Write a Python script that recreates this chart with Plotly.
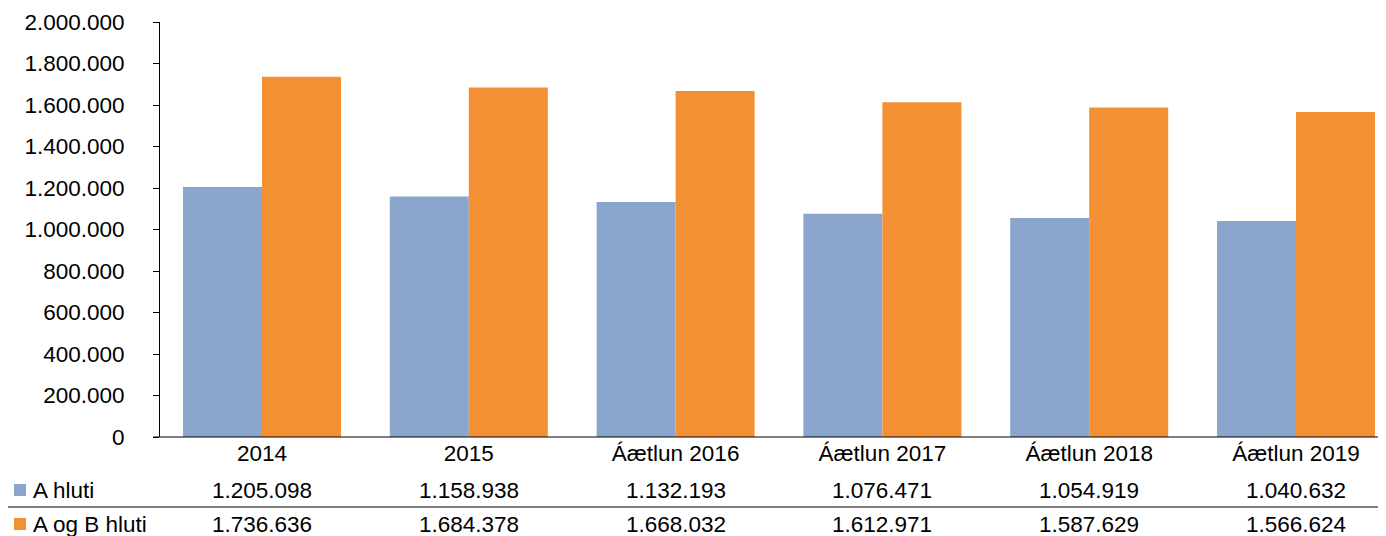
import plotly.graph_objects as go

categories = ["2014", "2015", "Áætlun 2016", "Áætlun 2017", "Áætlun 2018", "Áætlun 2019"]
series_names = ["A hluti", "A og B hluti"]
a_hluti = [1205098, 1158938, 1132193, 1076471, 1054919, 1040632]
a_og_b_hluti = [1736636, 1684378, 1668032, 1612971, 1587629, 1566624]
y_ticks = [0, 200000, 400000, 600000, 800000, 1000000, 1200000, 1400000, 1600000, 1800000, 2000000]

colors = ["#8AA6CC", "#F39033"]
OFF = 8  # page body margin
W, H = 1386 - OFF, 536 - OFF
L, R, T, B = 160 - OFF, 0, 22 - OFF, 99
PW, PH = W - L - R, H - T - B
FONT = "Liberation Sans, Arial, sans-serif"
FS = 22.5

# category spacing in the reference: centres at 262 px .. 1296 px
CAT_STEP = 206.8
X0 = -(262 - 160) / CAT_STEP
X1 = (1386 - 262) / CAT_STEP


def px_x(x):
    return (x - OFF - L) / PW


def px_y(y):
    return (H - B - (y - OFF)) / PH


def fmt(v):
    return f"{v:,}".replace(",", ".")


fig = go.Figure()
for name, vals, c in zip(series_names, [a_hluti, a_og_b_hluti], colors):
    fig.add_trace(go.Bar(x=categories, y=vals, name=name, marker=dict(color=c, line=dict(width=0))))

annotations = []
shapes = []
row_y = [490, 524]
for i, (name, vals, c) in enumerate(zip(series_names, [a_hluti, a_og_b_hluti], colors)):
    yp = px_y(row_y[i])
    for k, v in enumerate(vals):
        annotations.append(dict(x=k, y=yp, xref="x", yref="paper", text=fmt(v),
                                showarrow=False, xanchor="center", yanchor="middle",
                                font=dict(family=FONT, size=FS, color="#000000")))
    annotations.append(dict(x=px_x(31), y=yp, xref="paper", yref="paper", text=name,
                            showarrow=False, xanchor="left", yanchor="middle",
                            font=dict(family=FONT, size=FS, color="#000000")))
    shapes.append(dict(type="rect", xref="paper", yref="paper",
                       x0=px_x(14), x1=px_x(26), y0=px_y(row_y[i] + 6), y1=px_y(row_y[i] - 6),
                       fillcolor=c, line=dict(width=0)))

# table separator lines
shapes.append(dict(type="line", xref="paper", yref="paper", x0=px_x(153), x1=1, y0=0, y1=0,
                   line=dict(color="#000000", width=1)))
shapes.append(dict(type="line", xref="paper", yref="paper", x0=px_x(5), x1=1,
                   y0=px_y(507), y1=px_y(507), line=dict(color="#000000", width=1)))

fig.update_layout(
    width=W, height=H,
    margin=dict(l=L, r=R, t=T, b=B, pad=0),
    separators=",.",
    barmode="group", bargap=0.236, bargroupgap=0,
    plot_bgcolor="#FFFFFF", paper_bgcolor="#FFFFFF",
    showlegend=False,
    font=dict(family=FONT, size=FS, color="#000000"),
    annotations=annotations, shapes=shapes,
)
fig.update_xaxes(type="category", range=[X0, X1], showline=False, ticks="",
                 tickfont=dict(family=FONT, size=FS, color="#000000"),
                 showgrid=False, zeroline=False)
fig.update_yaxes(range=[0, 2000000], tickvals=y_ticks, tickformat=",.0f", showgrid=False,
                 zeroline=False, showline=True, linecolor="#000000", linewidth=1,
                 ticks="outside", ticklen=6, tickcolor="#000000", ticklabelstandoff=24,
                 tickfont=dict(family=FONT, size=FS, color="#000000"))

fig.write_html("out.html")
